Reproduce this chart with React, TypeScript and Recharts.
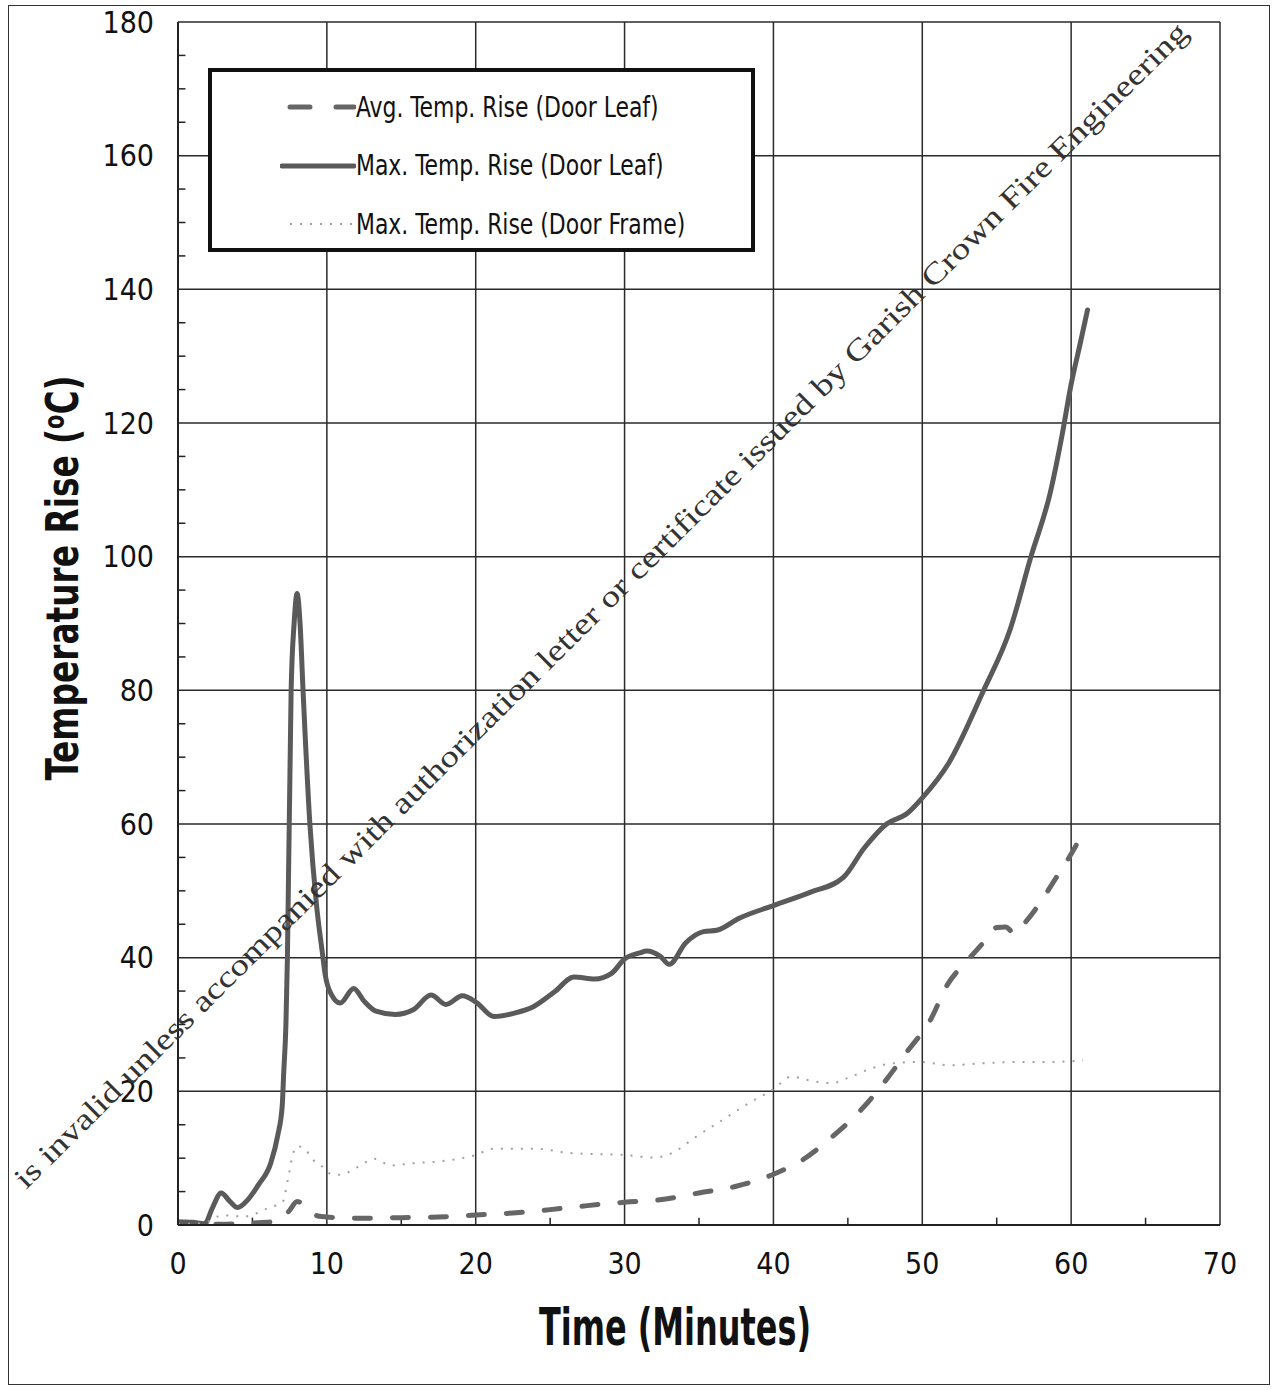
import React from 'react';
import { LineChart, Line, XAxis, YAxis, CartesianGrid, Legend, ReferenceLine, Label } from 'recharts';

const FONT = '"Liberation Sans Narrow", "Arial Narrow", "DejaVu Sans Condensed", sans-serif';

// Time (minutes) and rise (degC) for each curve
const avgTime = [0, 1, 2, 3, 4, 5, 6, 7, 7.5, 8, 8.5, 9, 9.5, 10, 12, 15, 17.5, 20, 22.5, 25, 27.5, 30, 32.5, 35, 37.5, 40, 42, 44, 46, 47.5, 49, 50.5, 51.7, 53, 54, 55, 55.6, 56.2, 57, 58, 59, 60, 61];
const avgRise = [0.3, 0.3, 0.1, 0.1, 0.2, 0.3, 0.4, 1.0, 2.2, 3.5, 3.0, 1.8, 1.3, 1.2, 1.0, 1.1, 1.2, 1.5, 1.8, 2.3, 2.9, 3.4, 3.8, 4.8, 5.8, 7.6, 9.8, 13.3, 17.5, 21.5, 26, 30.5, 36, 39.5, 42, 44.5, 44.6, 43.6, 45.5, 48.5, 52, 55.5, 59.6];

const leafTime = [0, 1, 1.8, 2.3, 2.9, 3.5, 4.0, 4.7, 5.4, 6.25, 6.7, 7.0, 7.1, 7.25, 7.35, 7.6, 7.8, 8.0, 8.2, 8.4, 8.86, 9.3, 9.7, 9.9, 10.3, 10.9, 11.8, 12.5, 13.3, 14.6, 15.8, 17.0, 18.0, 19.1, 20.1, 21.2, 22.6, 23.9, 25.3, 26.6, 28, 29.1, 30, 31, 31.5, 32.4, 33, 34.1, 35.3, 36.2, 37.7, 40, 42.5, 44.7, 46.1, 47.6, 49, 50, 51.8, 54.1, 55.9, 57.3, 58.6, 59.4, 60, 60.6, 61.1];
const leafRise = [0.5, 0.4, 0.2, 2.5, 4.8, 3.5, 2.6, 3.8, 6, 9.4, 13.4, 17.8, 22.7, 30, 40, 80, 90, 94.5, 90, 80, 60, 48, 40.7, 37.3, 34.5, 33.2, 35.4, 33.5, 32, 31.5, 32.2, 34.4, 33, 34.3, 33.2, 31.2, 31.7, 32.7, 34.9, 37.1, 36.8, 37.6, 39.8, 40.7, 41, 40.2, 39, 42.2, 43.9, 44.1, 45.9, 47.8, 49.8, 52, 56.4, 60, 61.6, 63.9, 69.2, 79.9, 89.1, 100, 109.6, 118.3, 125.8, 131.8, 136.9];

const frameTime = [0, 1, 2, 3, 3.8, 4.6, 5.2, 5.8, 6.4, 7, 7.4, 7.7, 8, 8.6, 9, 9.6, 10.2, 10.9, 12.1, 13.2, 14.3, 15.6, 17.4, 18.8, 19.9, 21.2, 24.1, 26.2, 28, 29.8, 32, 33.4, 34.6, 36.5, 38.4, 40, 41.2, 42.5, 43.9, 45, 46.3, 47.7, 49.8, 51.9, 54, 56.7, 58.5, 60.8];
const frameRise = [0.2, 0.2, 0.5, 1.5, 1.3, 1.3, 1.7, 2.3, 2.8, 3.3, 7, 10.4, 11.8, 11.2, 9.9, 8.9, 7.7, 7.5, 8.7, 9.9, 8.9, 9.2, 9.5, 9.9, 10.4, 11.4, 11.4, 10.8, 10.6, 10.5, 10.1, 11, 12.9, 15.6, 18.3, 20.3, 22.2, 21.6, 21.2, 22, 23.2, 24.1, 24.4, 23.9, 24.2, 24.4, 24.4, 24.6];

const xTicks = [0, 10, 20, 30, 40, 50, 60, 70];
const yTicks = [0, 20, 40, 60, 80, 100, 120, 140, 160, 180];
const xMinor = [5, 15, 25, 35, 45, 55, 65];
const yMinor = [5, 10, 15, 25, 30, 35, 45, 50, 55, 65, 70, 75, 85, 90, 95, 105, 110, 115, 125, 130, 135, 145, 150, 155, 165, 170, 175];

const series = [
  { name: 'Avg. Temp. Rise (Door Leaf)', time: avgTime, rise: avgRise, color: '#666', width: 5, dash: '16 22', cap: 'round' },
  { name: 'Max. Temp. Rise (Door Leaf)', time: leafTime, rise: leafRise, color: '#5a5a5a', width: 5, dash: undefined, cap: 'round' },
  { name: 'Max. Temp. Rise (Door Frame)', time: frameTime, rise: frameRise, color: '#a0a0a0', width: 2, dash: '2 8', cap: 'butt' },
];

const toPoints = (time: number[], rise: number[]) => time.map((t, i) => ({ t, v: rise[i] }));

const renderLegend = () => (
  <div style={{ boxSizing: 'border-box', width: 547, height: 184, border: '4px solid #111', background: '#fff', position: 'relative' }}>
    {series.map((s, i) => (
      <div key={s.name} style={{ position: 'absolute', left: 68, top: 18 + i * 58.5, height: 34, display: 'flex', alignItems: 'center' }}>
        <svg width={76} height={10}>
          <line x1={s.dash ? 10 : 2} y1={5} x2={74} y2={5} stroke={s.color} strokeWidth={s.width} strokeDasharray={s.dash ? (s.width > 3 ? '20 26' : '2 8') : undefined} strokeLinecap={s.cap as any} />
        </svg>
        <span style={{ fontFamily: FONT, fontSize: 28, color: '#111', whiteSpace: 'nowrap', display: 'inline-block', transform: 'scaleX(0.87)', transformOrigin: 'left center' }}>{s.name}</span>
      </div>
    ))}
  </div>
);

export default function App() {
  return (
    <div style={{ position: 'absolute', left: 0, top: 0, width: 1276, height: 1390, background: '#fff' }}>
      <div style={{ position: 'absolute', left: 8, top: 5, width: 1260, height: 1378, border: '1.5px solid #333' }} />
      <LineChart width={1276} height={1390} margin={{ top: 22, right: 56, bottom: 135, left: 118 }}>
        <CartesianGrid stroke="#2a2a2a" strokeWidth={1.5} />
        <XAxis type="number" dataKey="t" domain={[0, 70]} ticks={xTicks} allowDataOverflow
          axisLine={{ stroke: '#222', strokeWidth: 2 }} tickLine={false} tickMargin={22}
          tick={{ fill: '#111', fontSize: 30, fontFamily: FONT }}>
          <Label content={() => (
            <text x={675} y={1345} textAnchor="middle" fontFamily={FONT} fontWeight="bold" fontSize={52} fill="#111" textLength={272} lengthAdjust="spacingAndGlyphs">Time (Minutes)</text>
          )} />
        </XAxis>
        <YAxis type="number" domain={[0, 180]} ticks={yTicks} width={60} allowDataOverflow
          axisLine={{ stroke: '#222', strokeWidth: 2 }} tickLine={false} tickMargin={18}
          tick={{ fill: '#111', fontSize: 30, fontFamily: FONT }}>
          <Label content={() => (
            <text x={78} y={578} transform="rotate(-90 78 578)" textAnchor="middle" fontFamily={FONT} fontWeight="bold" fontSize={44} fill="#111" textLength={405} lengthAdjust="spacingAndGlyphs">
              Temperature Rise (<tspan fontSize={28} dy={-14}>o</tspan><tspan dy={14}>C)</tspan>
            </text>
          )} />
        </YAxis>
        {xMinor.map((x) => (
          <ReferenceLine key={'xm' + x} segment={[{ x, y: 0 }, { x, y: 1.1 }]} stroke="#222" strokeWidth={1.5} />
        ))}
        {yMinor.map((y) => (
          <ReferenceLine key={'ym' + y} segment={[{ x: 0, y }, { x: 0.5, y }]} stroke="#222" strokeWidth={1.5} />
        ))}
        <Legend layout="vertical" align="center" verticalAlign="middle" content={renderLegend}
          wrapperStyle={{ left: 208, top: 68, width: 547, height: 184 }} />
        {series.map((s) => (
          <Line key={s.name} name={s.name} data={toPoints(s.time, s.rise)} dataKey="v" type="monotone"
            stroke={s.color} strokeWidth={s.width} strokeDasharray={s.dash} strokeLinecap={s.cap as any}
            dot={false} activeDot={false} isAnimationActive={false} />
        ))}
      </LineChart>
      <svg width={1276} height={1390} style={{ position: 'absolute', left: 0, top: 0, pointerEvents: 'none' }}>
        <text x={26} y={1190} transform="rotate(-44.8 26 1190)" fontFamily='"Liberation Serif", serif' fontSize={30} fill="#333" textLength={1640} lengthAdjust="spacingAndGlyphs">
          is invalid unless accompanied with authorization letter or certificate issued by Garish Crown Fire Engineering
        </text>
      </svg>
    </div>
  );
}
